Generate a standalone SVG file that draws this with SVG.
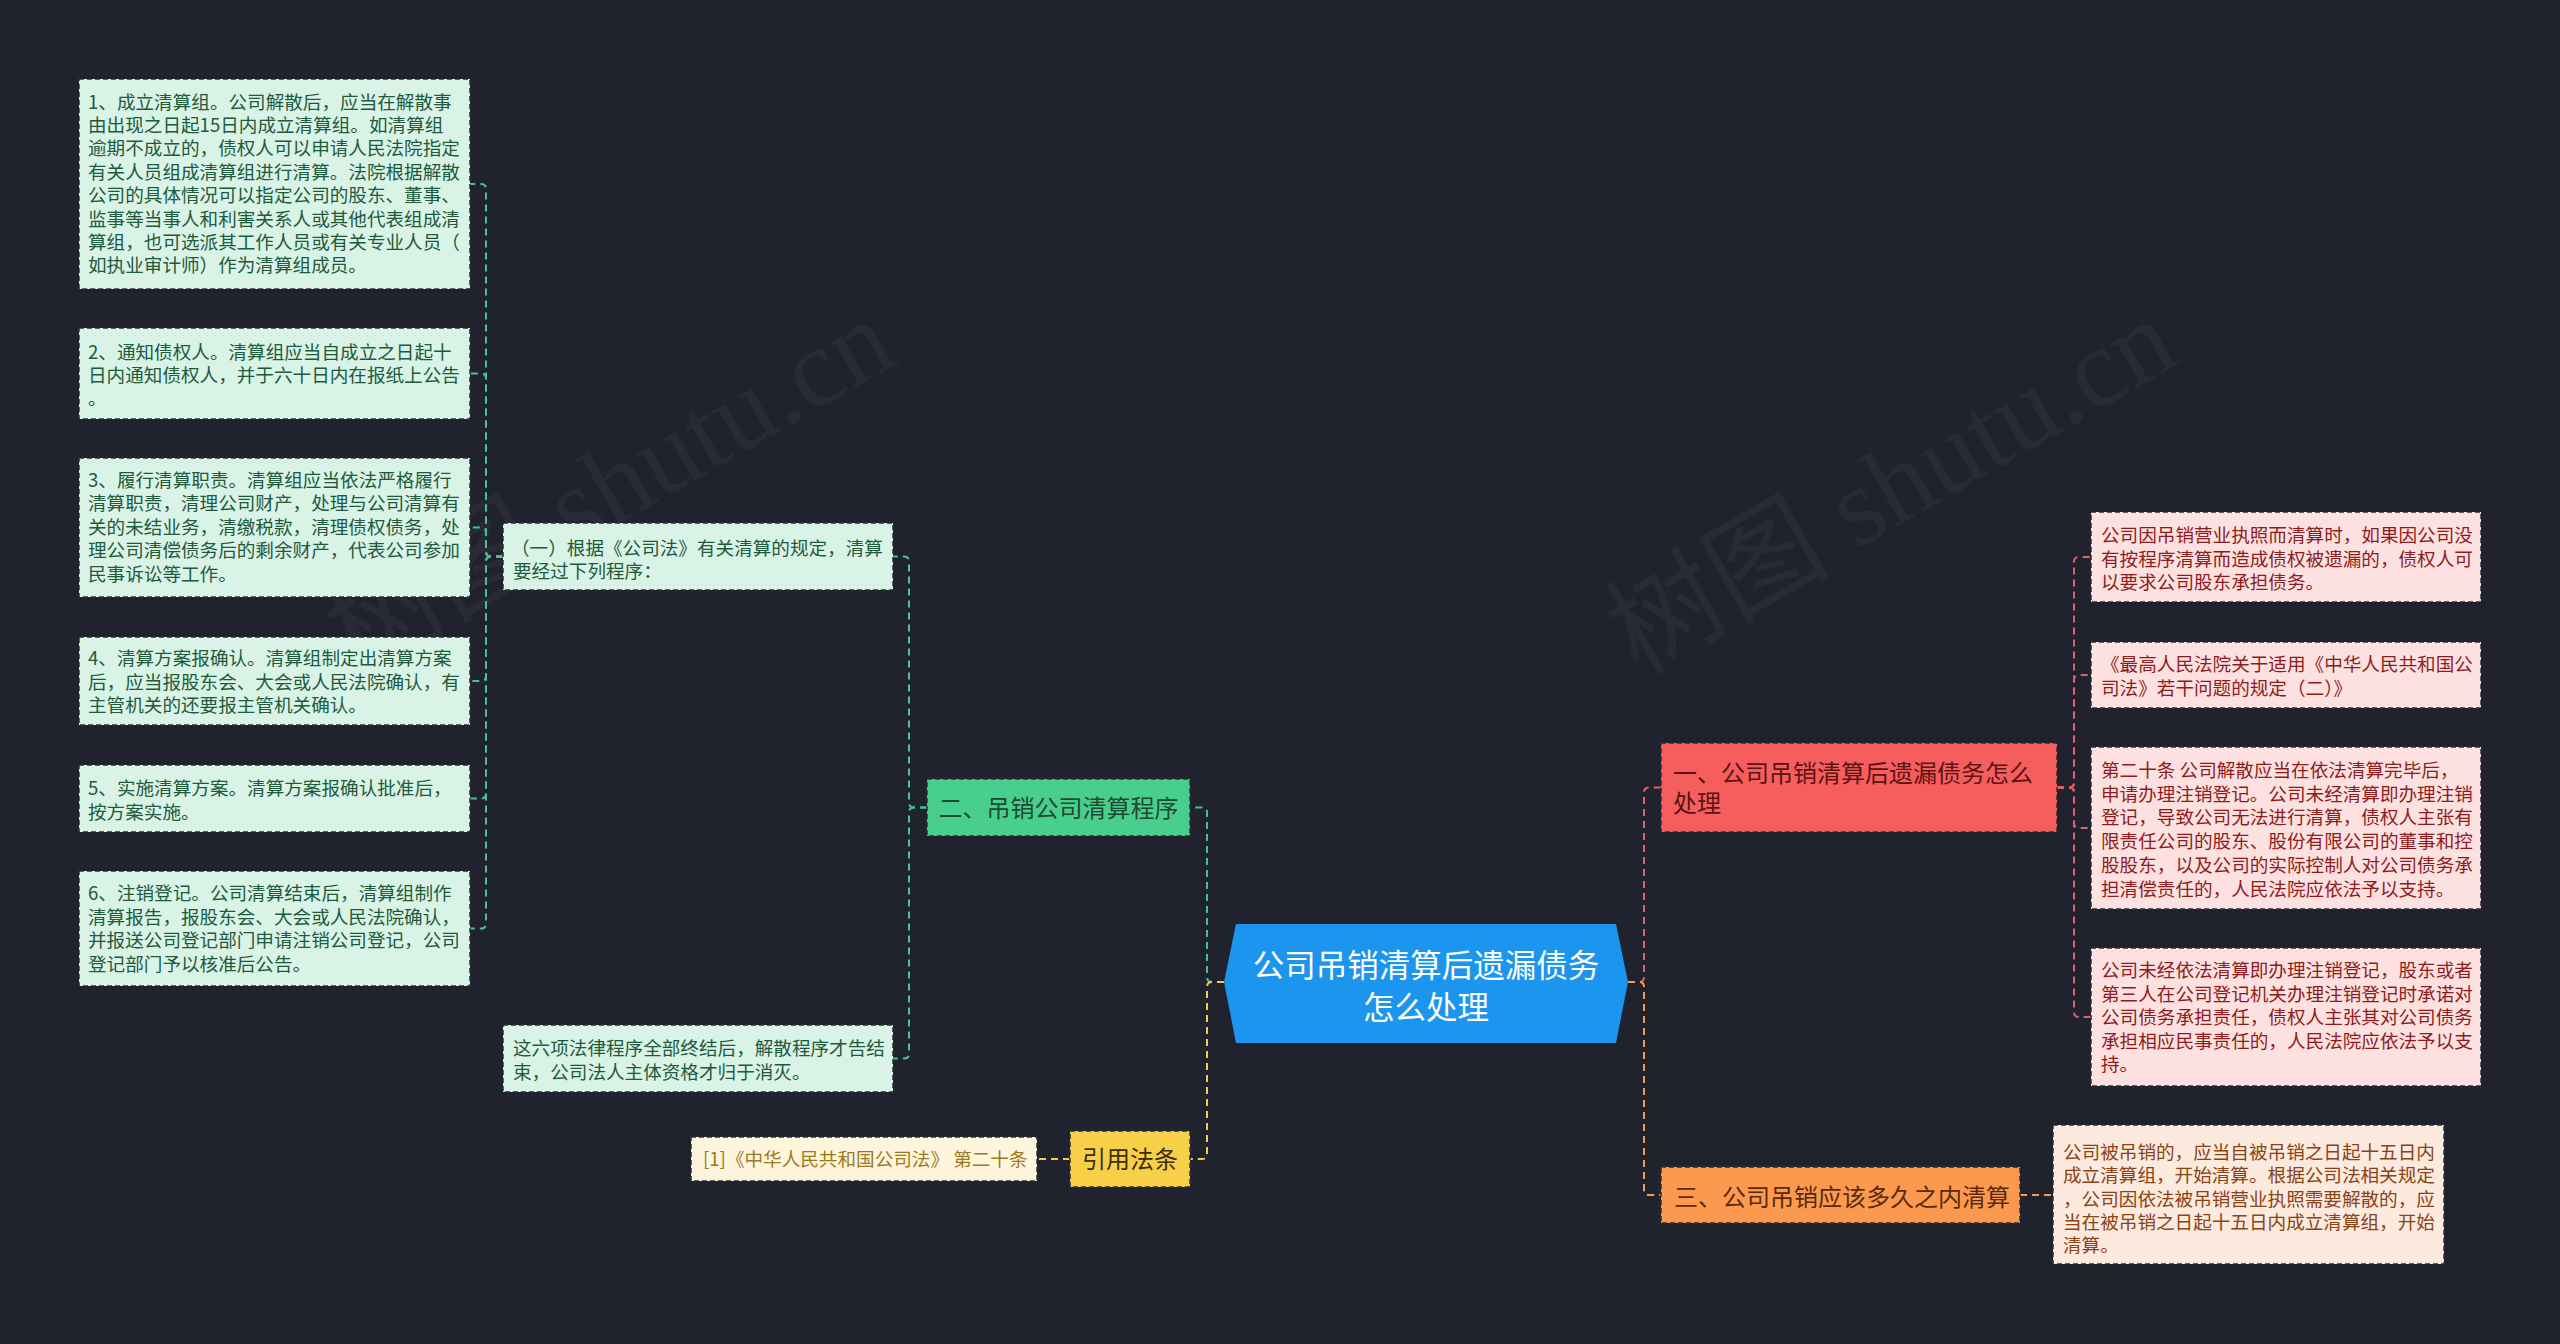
<svg xmlns="http://www.w3.org/2000/svg" width="2560" height="1344" viewBox="0 0 2560 1344">
<style>
text{font-family:"Noto Sans CJK SC","Noto Sans",sans-serif;}
.wm{font-family:"Liberation Serif","Noto Sans CJK SC",serif;font-size:112px;fill:#ffffff;fill-opacity:0.04;}
.conn{fill:none;stroke-width:2;stroke-dasharray:7 5;}
.cg{stroke:#45c48e;}
.cy{stroke:#f3cc4a;}
.cr{stroke:#e2606a;}
.co{stroke:#f39a56;}
.bx{stroke:#2a2d36;stroke-width:1.5;stroke-dasharray:5 3;}
.mint{fill:#d9f3e6;}
.mint-t{fill:#1e5a3c;font-size:18.6px;}
.pink{fill:#fde1e1;}
.pink-t{fill:#8e1c1c;font-size:18.6px;}
.peach{fill:#fdeadf;}
.peach-t{fill:#8a4314;font-size:18.6px;}
.cream{fill:#fdf5dc;}
.cream-t{fill:#9c7a1c;font-size:18.6px;}
.nt{font-size:24px;}
</style>
<rect x="0" y="0" width="2560" height="1344" fill="#20232e"/>
<g id="watermarks">
<text class="wm" transform="translate(356,676) rotate(-30)">树图 shutu.cn</text>
<text class="wm" transform="translate(1638,676) rotate(-30)">树图 shutu.cn</text>
</g>
<g id="connectors">
<path class="conn cg" d="M1224,982 H1212 Q1207,982 1207,977 V812.5 Q1207,807.5 1202,807.5 H1190"/>
<path class="conn cy" d="M1224,982 H1212 Q1207,982 1207,987 V1154 Q1207,1159 1202,1159 H1190"/>
<path class="conn cr" d="M1628,982 H1639 Q1644,982 1644,977 V792.5 Q1644,787.5 1649,787.5 H1661"/>
<path class="conn co" d="M1628,982 H1639 Q1644,982 1644,987 V1190 Q1644,1195 1649,1195 H1661"/>
<path class="conn cg" d="M927,807.5 H914 Q909,807.5 909,802.5 V561.5 Q909,556.5 904,556.5 H893"/>
<path class="conn cg" d="M927,807.5 H914 Q909,807.5 909,812.5 V1053.5 Q909,1058.5 904,1058.5 H893"/>
<path class="conn cg" d="M503,556.5 H491 Q486,556.5 486,551.5 V189 Q486,184 481,184 H470"/>
<path class="conn cg" d="M503,556.5 H491 Q486,556.5 486,551.5 V378.5 Q486,373.5 481,373.5 H470"/>
<path class="conn cg" d="M503,556.5 H491 Q486,556.5 486,551.5 V532.5 Q486,527.5 481,527.5 H470"/>
<path class="conn cg" d="M503,556.5 H491 Q486,556.5 486,561.5 V676 Q486,681 481,681 H470"/>
<path class="conn cg" d="M503,556.5 H491 Q486,556.5 486,561.5 V793.5 Q486,798.5 481,798.5 H470"/>
<path class="conn cg" d="M503,556.5 H491 Q486,556.5 486,561.5 V923.5 Q486,928.5 481,928.5 H470"/>
<path class="conn cy" d="M1070,1159 H1037"/>
<path class="conn cr" d="M2057,787.5 H2069 Q2074,787.5 2074,782.5 V562 Q2074,557 2079,557 H2091"/>
<path class="conn cr" d="M2057,787.5 H2069 Q2074,787.5 2074,782.5 V680 Q2074,675 2079,675 H2091"/>
<path class="conn cr" d="M2057,787.5 H2069 Q2074,787.5 2074,792.5 V823 Q2074,828 2079,828 H2091"/>
<path class="conn cr" d="M2057,787.5 H2069 Q2074,787.5 2074,792.5 V1012 Q2074,1017 2079,1017 H2091"/>
<path class="conn co" d="M2020,1195 H2053"/>
</g>
<g id="center">
<polygon points="1224,982 1236,924 1616,924 1628,982 1616,1043 1236,1043" fill="#1b95ee"/>
<text x="1426" y="977" font-size="31.5" fill="#ffffff" text-anchor="middle">公司吊销清算后遗漏债务</text>
<text x="1426" y="1019" font-size="31.5" fill="#ffffff" text-anchor="middle">怎么处理</text>
</g>
<g id="n2">
<rect class="bx" x="927" y="779" width="263" height="57" fill="#49cf8d"/>
<text class="nt" x="1058.5" y="817" fill="#1d4a33" text-anchor="middle">二、吊销公司清算程序</text>
</g>
<g id="n2a">
<rect class="bx mint" x="503" y="523" width="390" height="67"/>
<text class="mint-t" x="511" y="555">（一）根据《公司法》有关清算的规定，清算</text>
<text class="mint-t" x="513" y="578">要经过下列程序：</text>
</g>
<g id="n2b">
<rect class="bx mint" x="503" y="1025" width="390" height="67"/>
<text class="mint-t" x="513" y="1055">这六项法律程序全部终结后，解散程序才告结</text>
<text class="mint-t" x="513" y="1079">束，公司法人主体资格才归于消灭。</text>
</g>
<g id="s1">
<rect class="bx mint" x="79" y="79" width="391" height="210"/>
<text class="mint-t" x="88" y="108.5">1、成立清算组。公司解散后，应当在解散事</text>
<text class="mint-t" x="88" y="131.9">由出现之日起15日内成立清算组。如清算组</text>
<text class="mint-t" x="88" y="155.3">逾期不成立的，债权人可以申请人民法院指定</text>
<text class="mint-t" x="88" y="178.7">有关人员组成清算组进行清算。法院根据解散</text>
<text class="mint-t" x="88" y="202.1">公司的具体情况可以指定公司的股东、董事、</text>
<text class="mint-t" x="88" y="225.5">监事等当事人和利害关系人或其他代表组成清</text>
<text class="mint-t" x="88" y="248.9">算组，也可选派其工作人员或有关专业人员（</text>
<text class="mint-t" x="88" y="272.3">如执业审计师）作为清算组成员。</text>
</g>
<g id="s2">
<rect class="bx mint" x="79" y="328" width="391" height="91"/>
<text class="mint-t" x="88" y="358.7">2、通知债权人。清算组应当自成立之日起十</text>
<text class="mint-t" x="88" y="382">日内通知债权人，并于六十日内在报纸上公告</text>
<text class="mint-t" x="88" y="405.4">。</text>
</g>
<g id="s3">
<rect class="bx mint" x="79" y="458" width="391" height="139"/>
<text class="mint-t" x="88" y="487">3、履行清算职责。清算组应当依法严格履行</text>
<text class="mint-t" x="88" y="510.4">清算职责，清理公司财产，处理与公司清算有</text>
<text class="mint-t" x="88" y="533.8">关的未结业务，清缴税款，清理债权债务，处</text>
<text class="mint-t" x="88" y="557.2">理公司清偿债务后的剩余财产，代表公司参加</text>
<text class="mint-t" x="88" y="580.6">民事诉讼等工作。</text>
</g>
<g id="s4">
<rect class="bx mint" x="79" y="637" width="391" height="88"/>
<text class="mint-t" x="88" y="665.3">4、清算方案报确认。清算组制定出清算方案</text>
<text class="mint-t" x="88" y="688.7">后，应当报股东会、大会或人民法院确认，有</text>
<text class="mint-t" x="88" y="712.1">主管机关的还要报主管机关确认。</text>
</g>
<g id="s5">
<rect class="bx mint" x="79" y="765" width="391" height="67"/>
<text class="mint-t" x="88" y="795.3">5、实施清算方案。清算方案报确认批准后，</text>
<text class="mint-t" x="88" y="818.7">按方案实施。</text>
</g>
<g id="s6">
<rect class="bx mint" x="79" y="871" width="391" height="115"/>
<text class="mint-t" x="88" y="900.3">6、注销登记。公司清算结束后，清算组制作</text>
<text class="mint-t" x="88" y="923.7">清算报告，报股东会、大会或人民法院确认，</text>
<text class="mint-t" x="88" y="947.1">并报送公司登记部门申请注销公司登记，公司</text>
<text class="mint-t" x="88" y="970.5">登记部门予以核准后公告。</text>
</g>
<g id="n4">
<rect class="bx" x="1070" y="1131" width="120" height="56" fill="#f8d048"/>
<text class="nt" x="1130" y="1168" fill="#3b2e08" text-anchor="middle">引用法条</text>
</g>
<g id="n4a">
<rect class="bx cream" x="691" y="1137" width="346" height="44"/>
<text class="cream-t" x="703" y="1166">[1]《中华人民共和国公司法》 第二十条</text>
</g>
<g id="n1">
<rect class="bx" x="1661" y="743" width="396" height="89" fill="#f65d5d"/>
<text class="nt" x="1673" y="782" fill="#5a1414">一、公司吊销清算后遗漏债务怎么</text>
<text class="nt" x="1673" y="812" fill="#5a1414">处理</text>
</g>
<g id="r1">
<rect class="bx pink" x="2091" y="512" width="390" height="90"/>
<text class="pink-t" x="2101" y="542">公司因吊销营业执照而清算时，如果因公司没</text>
<text class="pink-t" x="2101" y="565.7">有按程序清算而造成债权被遗漏的，债权人可</text>
<text class="pink-t" x="2101" y="589.4">以要求公司股东承担债务。</text>
</g>
<g id="r2">
<rect class="bx pink" x="2091" y="642" width="390" height="66"/>
<text class="pink-t" x="2101" y="671">《最高人民法院关于适用《中华人民共和国公</text>
<text class="pink-t" x="2101" y="694.7">司法》若干问题的规定（二）》</text>
</g>
<g id="r3">
<rect class="bx pink" x="2091" y="747" width="390" height="162"/>
<text class="pink-t" x="2101" y="777">第二十条 公司解散应当在依法清算完毕后，</text>
<text class="pink-t" x="2101" y="800.7">申请办理注销登记。公司未经清算即办理注销</text>
<text class="pink-t" x="2101" y="824.4">登记，导致公司无法进行清算，债权人主张有</text>
<text class="pink-t" x="2101" y="848.1">限责任公司的股东、股份有限公司的董事和控</text>
<text class="pink-t" x="2101" y="871.8">股股东，以及公司的实际控制人对公司债务承</text>
<text class="pink-t" x="2101" y="895.5">担清偿责任的，人民法院应依法予以支持。</text>
</g>
<g id="r4">
<rect class="bx pink" x="2091" y="948" width="390" height="138"/>
<text class="pink-t" x="2101" y="977">公司未经依法清算即办理注销登记，股东或者</text>
<text class="pink-t" x="2101" y="1000.6">第三人在公司登记机关办理注销登记时承诺对</text>
<text class="pink-t" x="2101" y="1024.2">公司债务承担责任，债权人主张其对公司债务</text>
<text class="pink-t" x="2101" y="1047.8">承担相应民事责任的，人民法院应依法予以支</text>
<text class="pink-t" x="2101" y="1071.4">持。</text>
</g>
<g id="n3">
<rect class="bx" x="1661" y="1167" width="359" height="56" fill="#fb9a4f"/>
<text class="nt" x="1674" y="1206" fill="#5a2a0a">三、公司吊销应该多久之内清算</text>
</g>
<g id="n3a">
<rect class="bx peach" x="2053" y="1125" width="391" height="139"/>
<text class="peach-t" x="2063" y="1159">公司被吊销的，应当自被吊销之日起十五日内</text>
<text class="peach-t" x="2063" y="1182.3">成立清算组，开始清算。根据公司法相关规定</text>
<text class="peach-t" x="2063" y="1205.6">，公司因依法被吊销营业执照需要解散的，应</text>
<text class="peach-t" x="2063" y="1228.9">当在被吊销之日起十五日内成立清算组，开始</text>
<text class="peach-t" x="2063" y="1252.2">清算。</text>
</g>
</svg>
